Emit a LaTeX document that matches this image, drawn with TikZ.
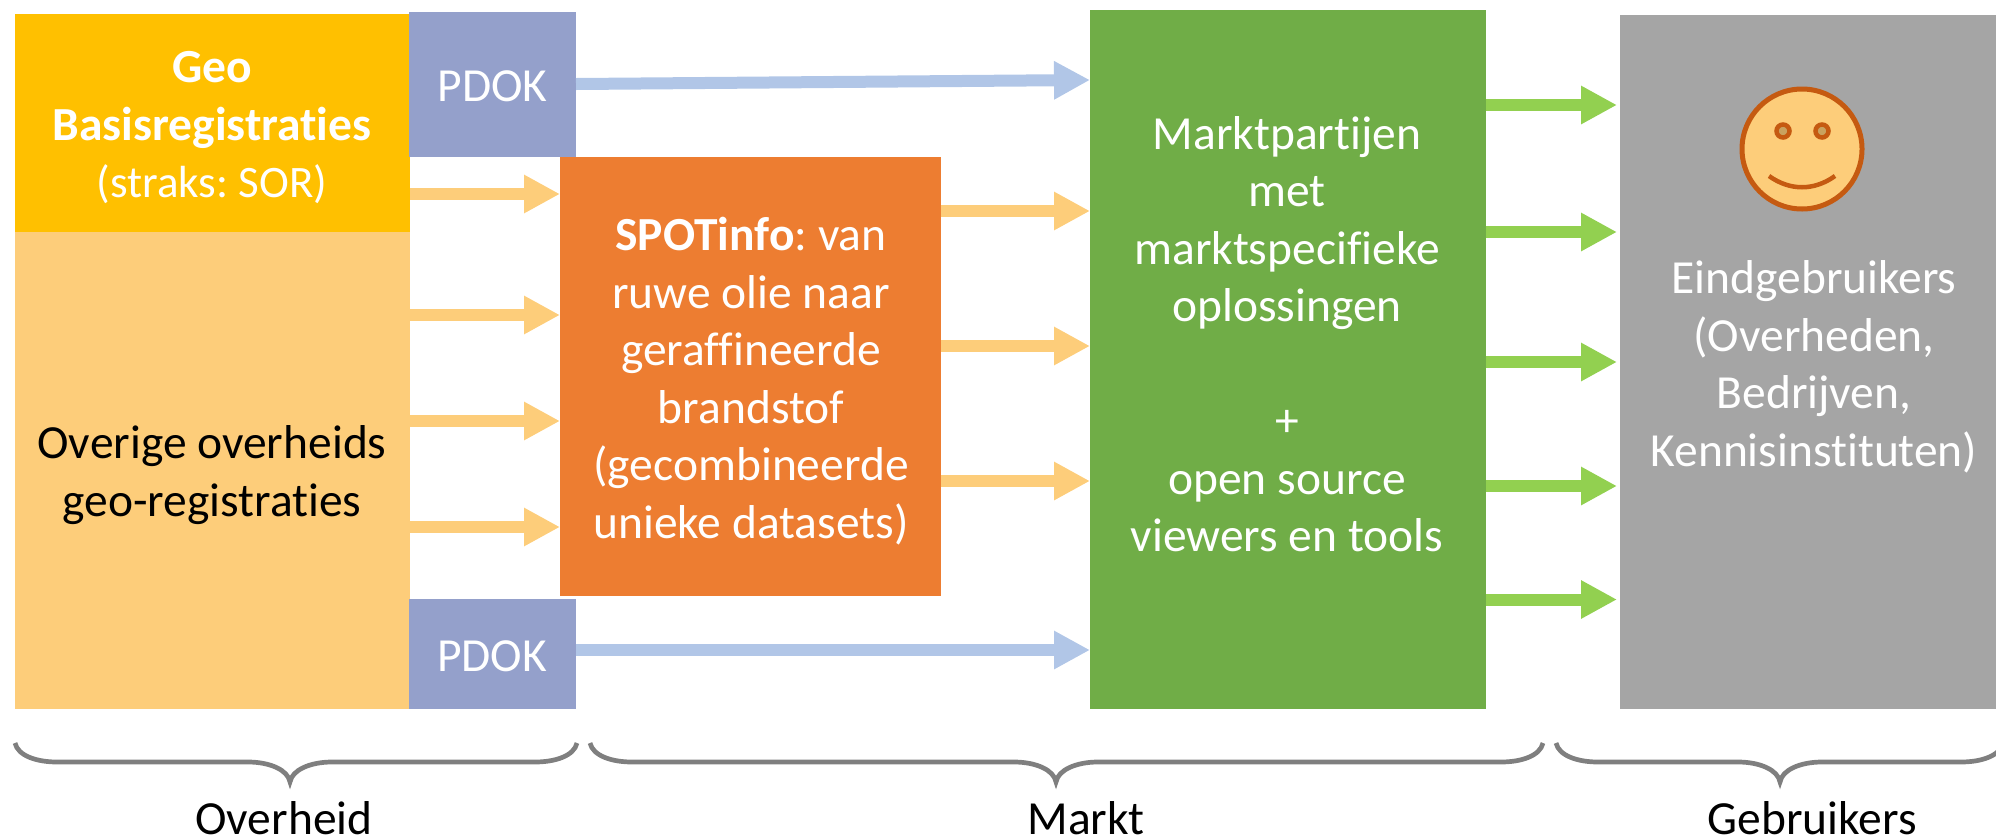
\documentclass[tikz,border=0pt]{standalone}
\usepackage{fontspec}
\setmainfont[RawFeature={-liga}]{Carlito}
\frenchspacing
\usetikzlibrary{arrows.meta,calc}
\definecolor{cyellow}{HTML}{FFC000}
\definecolor{clight}{HTML}{FDCD7A}
\definecolor{cpdok}{HTML}{94A0CB}
\definecolor{cblue}{HTML}{B1C6E7}
\definecolor{corange}{HTML}{ED7D31}
\definecolor{cgreen}{HTML}{70AD47}
\definecolor{cgray}{HTML}{A5A5A5}
\definecolor{carrowg}{HTML}{92D050}
\definecolor{csmile}{HTML}{C55A11}
\definecolor{ceye}{HTML}{C9A25F}
\definecolor{cbrace}{HTML}{7F7F7F}
\newcommand{\boxat}[6]{\node[boxstyle,fill=#2,minimum width=#5-#3,minimum height=#6-#4] (#1) at ({(#3+#5)/2},{(#4+#6)/2}) {};}
\newcommand{\bigtext}{\fontsize{47.5}{57.5}\selectfont\frenchspacing}
\tikzset{
  boxstyle/.style={draw=none,inner sep=0pt,outer sep=0pt},
  txt/.style={inner sep=0pt,outer sep=0pt,align=center,text=white,font=\bigtext},
  blk/.style={txt,text=black},
  arrowl/.style={-{Triangle[length=36pt,width=36pt]},line width=12pt,draw=clight},
  arrowb/.style={arrowl,draw=cblue},
  arrowg/.style={arrowl,draw=carrowg},
  bracestyle/.style={line width=4.7pt,draw=cbrace,line cap=butt},
}
\begin{document}
\begin{tikzpicture}[x=1pt,y=-1pt]
\clip (0,0) rectangle (1996,836);
\boxat{geo}{cyellow}{15}{14}{410}{232}
\boxat{over}{clight}{15}{232}{410}{709}
\boxat{pdoka}{cpdok}{409}{12}{576}{157}
\boxat{pdokb}{cpdok}{409}{599}{576}{709}
\boxat{spot}{corange}{560}{157}{941}{596}
\boxat{markt}{cgreen}{1090}{10}{1486}{709}
\boxat{users}{cgray}{1620}{15}{1996}{709}

\node[txt] (tgeo) at (212,128) {\textbf{Geo}\\\textbf{Basisregistraties}\\{\fontsize{45}{57.5}\selectfont (straks: SOR)}};
\node[txt] (tpa) at ([yshift=-1.5pt]pdoka.center) {PDOK};
\node[txt] (tpb) at (492,656) {PDOK};
\node[blk] (tover) at (212,475) {Overige overheids\\geo-registraties};
\node[txt] (tspot) at (751,381) {\textbf{SPOTinfo}: van\\ruwe olie naar\\geraffineerde\\brandstof\\(gecombineerde\\unieke datasets)};
\node[txt] (tmarkt) at (1287,334) {Marktpartijen\\met\\marktspecifieke\\oplossingen\\[57.5pt]+\\open source\\viewers en tools};
\node[txt] (tusers) at (1814,367) {Eindgebruikers\\(Overheden,\\Bedrijven,\\Kennisinstituten)};

\coordinate (a1) at (0,194);
\coordinate (a2) at (0,315);
\coordinate (a3) at (0,421);
\coordinate (a4) at (0,527);
\draw[arrowl] (geo.east |- a1) -- (spot.west |- a1);
\draw[arrowl] (over.east |- a2) -- (spot.west |- a2);
\draw[arrowl] (over.east |- a3) -- (spot.west |- a3);
\draw[arrowl] (over.east |- a4) -- (spot.west |- a4);

\coordinate (b1) at (0,211);
\coordinate (b2) at (0,346);
\coordinate (b3) at (0,481);
\draw[arrowl] (spot.east |- b1) -- (markt.west |- b1);
\draw[arrowl] (spot.east |- b2) -- (markt.west |- b2);
\draw[arrowl] (spot.east |- b3) -- (markt.west |- b3);

\coordinate (c1) at (0,84);
\coordinate (c2) at (0,80);
\coordinate (c3) at (0,650);
\draw[arrowb] (pdoka.east |- c1) -- (markt.west |- c2);
\draw[arrowb] (pdokb.east |- c3) -- (markt.west |- c3);

\coordinate (d1) at (0,105);
\coordinate (d2) at (0,232);
\coordinate (d3) at (0,362);
\coordinate (d4) at (0,486);
\coordinate (d5) at (0,599.5);
\foreach \d in {d1,d2,d3,d4,d5}{
  \draw[arrowg] (markt.east |- \d) -- ([xshift=-3pt]users.west |- \d);
}

% smiley
\node[circle,draw=csmile,fill=clight,line width=5pt,minimum size=120pt,inner sep=0pt] (face) at (1802,149) {};
\node[circle,draw=csmile,fill=ceye,line width=4.5pt,minimum size=13pt,inner sep=0pt] (eyel) at (1783,131) {};
\node[circle,draw=csmile,fill=ceye,line width=4.5pt,minimum size=13pt,inner sep=0pt] (eyer) at (1822,131) {};
\draw[draw=csmile,line width=4.5pt] (1769,176) .. controls (1790,191) and (1814,191) .. (1835,176);

% braces
\foreach \xa/\xm/\xb in {15/290/577, 590/1056/1543, 1556/1780/2003}{
  \draw[bracestyle] (\xa,743) .. controls (\xa+3,756) and (\xa+22,762) .. (\xa+42,762)
     -- (\xm-42,762) .. controls (\xm-20,762) and (\xm-2,770) .. (\xm,782)
     .. controls (\xm+2,770) and (\xm+20,762) .. (\xm+42,762)
     -- (\xb-42,762) .. controls (\xb-22,762) and (\xb-3,756) .. (\xb,743);
}
\node[blk,anchor=base] (lover) at (284,834) {Overheid};
\node[blk,anchor=base] (lmarkt) at (1086,834) {Markt};
\node[blk,anchor=base] (lusers) at (1812,834) {Gebruikers};
\end{tikzpicture}
\end{document}
